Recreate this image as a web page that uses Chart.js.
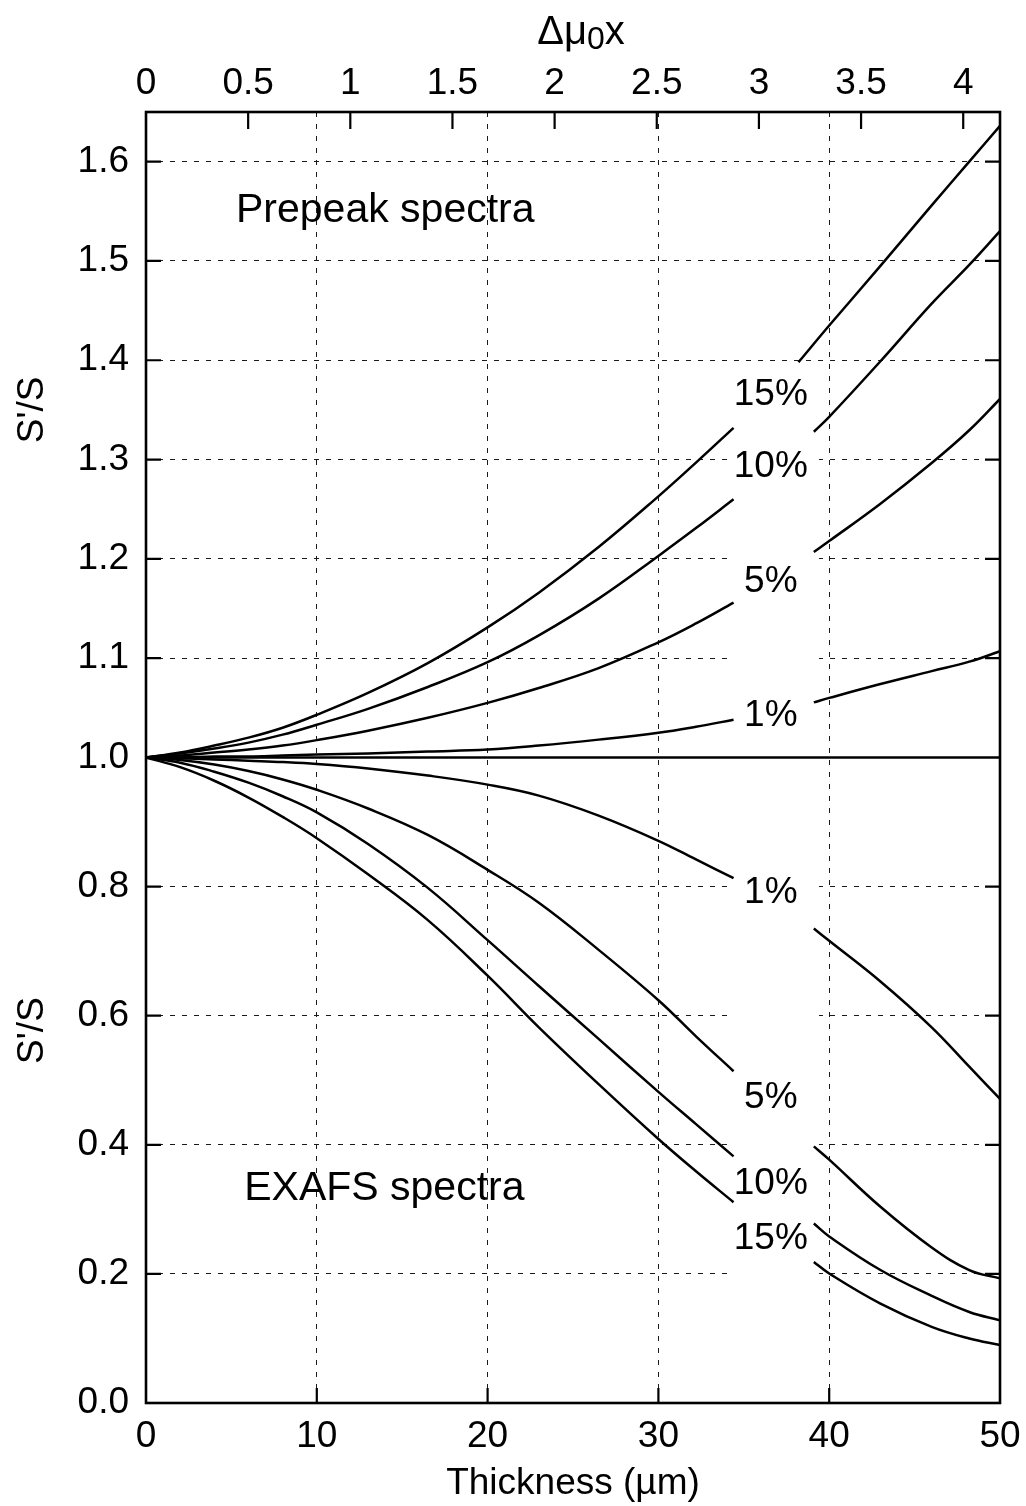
<!DOCTYPE html>
<html><head><meta charset="utf-8">
<script src="https://cdn.jsdelivr.net/npm/chart.js@4.4.1/dist/chart.umd.min.js"></script>
<style>html,body{margin:0;padding:0;background:#fff;}#wrap{width:1026px;height:1506px;}</style>
</head><body><div id="wrap"><canvas id="c" width="1026" height="1506"></canvas></div>
<script>
// ---------- data ----------
const thicknessA   = [0, 2, 4, 6, 8, 10, 13, 16.5, 20, 23, 26.5, 30, 32.2, 34.4];
const thicknessB   = [39.1, 40, 43, 46, 48.2, 50];
const thicknessB15 = [38.2, 40, 43, 46, 48.2, 50];

const prepeak15A = [1.000, 1.005, 1.012, 1.020, 1.030, 1.043, 1.065, 1.095, 1.131, 1.166, 1.212, 1.263, 1.297, 1.332];
const prepeak15B = [1.398, 1.435, 1.495, 1.556, 1.600, 1.636];
const prepeak10A = [1.000, 1.004, 1.009, 1.015, 1.023, 1.033, 1.049, 1.071, 1.096, 1.123, 1.160, 1.203, 1.231, 1.260];
const prepeak10B = [1.328, 1.343, 1.399, 1.457, 1.496, 1.530];
const prepeak5A  = [1.000, 1.002, 1.005, 1.008, 1.012, 1.0175, 1.027, 1.040, 1.055, 1.070, 1.090, 1.116, 1.135, 1.156];
const prepeak5B  = [1.207, 1.218, 1.2555, 1.2965, 1.3295, 1.361];
const prepeak1A  = [1.000, 1.000, 1.001, 1.001, 1.002, 1.003, 1.004, 1.006, 1.008, 1.012, 1.018, 1.025, 1.031, 1.038];
const prepeak1B  = [1.0555, 1.060, 1.074, 1.087, 1.0965, 1.107];

const exafs1A  = [1.000, 0.999, 0.997, 0.995, 0.993, 0.990, 0.983, 0.972, 0.958, 0.941, 0.910, 0.871, 0.842, 0.813];
const exafs1B  = [0.735, 0.716, 0.653, 0.582, 0.521, 0.471];
const exafs5A  = [1.000, 0.996, 0.989, 0.979, 0.966, 0.950, 0.921, 0.880, 0.826, 0.775, 0.702, 0.624, 0.568, 0.514];
const exafs5B  = [0.3975, 0.377, 0.304, 0.241, 0.206, 0.193];
const exafs10A = [1.000, 0.992, 0.978, 0.961, 0.940, 0.915, 0.866, 0.798, 0.717, 0.646, 0.564, 0.482, 0.432, 0.382];
const exafs10B = [0.278, 0.258, 0.206, 0.166, 0.141, 0.128];
const exafs15A = [1.000, 0.985, 0.964, 0.938, 0.908, 0.875, 0.819, 0.748, 0.662, 0.582, 0.494, 0.409, 0.359, 0.311];
const exafs15B = [0.2186, 0.2006, 0.154, 0.118, 0.100, 0.090];

const referenceX = [0, 50];
const referenceY = [1.0, 1.0];

const thicknessTicks = [0, 10, 20, 30, 40, 50];
const muTicks        = [0, 0.5, 1, 1.5, 2, 2.5, 3, 3.5, 4];
const upperTicks     = [1.1, 1.2, 1.3, 1.4, 1.5, 1.6];
const lowerTicks     = [0.0, 0.2, 0.4, 0.6, 0.8, 1.0];
const muAtMaxThickness = 4.18;

const curveLabels = ['15%', '10%', '5%', '1%'];
const exafsLabels = ['1%', '5%', '10%', '15%'];

// ---------- helpers ----------
const FAMILY = '"Liberation Sans", Arial, Helvetica, sans-serif';
const tickFont = { family: FAMILY, size: 37 };
const pts = (xs, ys) => xs.map((x, i) => ({ x, y: ys[i] }));
function line(xs, ys, axis) {
  return { data: pts(xs, ys), yAxisID: axis, borderColor: '#000', borderWidth: 2.5,
           pointRadius: 0, showLine: true, fill: false, tension: 0.4, clip: 4 };
}
const setTicks = arr => s => { s.ticks = arr.map(v => ({ value: v })); };

// annotation layout (positions in data units)
const labelLayout = {
  x: 36.58,
  upperY: [1.368, 1.296, 1.180, 1.045],
  lowerY: [0.795, 0.478, 0.345, 0.259],
  gap: { from: 34.25, to: 39.4, top: 1.385, bottom: 0.155 },
  prepeak: { x: 5.27, y: 1.5545, text: 'Prepeak spectra' },
  exafs: { x: 5.75, y: 0.337, text: 'EXAFS spectra' },
  yTitleUpper: 1.35, yTitleLower: 0.577
};

function capText(ctx, text, x, yc, size, align) {
  ctx.font = size + 'px ' + FAMILY;
  ctx.textAlign = align; ctx.textBaseline = 'alphabetic';
  ctx.fillText(text, x, yc + 0.358 * size);
}

const decor = {
  id: 'decor',
  beforeDatasetsDraw(chart) {
    const { ctx, scales: { x, yTop, yBot } } = chart;
    const g = labelLayout.gap;
    const l = x.getPixelForValue(g.from), r = x.getPixelForValue(g.to);
    const t = yTop.getPixelForValue(g.top), b = yBot.getPixelForValue(g.bottom);
    ctx.save(); ctx.fillStyle = '#fff'; ctx.fillRect(l, t, r - l, b - t); ctx.restore();
  },
  afterDatasetsDraw(chart) {
    const { ctx, chartArea: a, scales: { x, x2, yTop, yBot } } = chart;
    ctx.save();
    ctx.strokeStyle = '#000'; ctx.fillStyle = '#000';
    // frame
    ctx.lineWidth = 2.6;
    ctx.strokeRect(a.left, a.top, a.right - a.left, a.bottom - a.top);
    // inward tick marks
    ctx.lineWidth = 2.2;
    ctx.beginPath();
    thicknessTicks.slice(1, -1).forEach(v => { const p = x.getPixelForValue(v); ctx.moveTo(p, a.bottom); ctx.lineTo(p, a.bottom - 15); });
    muTicks.slice(1).forEach(v => { const p = x2.getPixelForValue(v); ctx.moveTo(p, a.top); ctx.lineTo(p, a.top + 17); });
    upperTicks.forEach(v => { const p = yTop.getPixelForValue(v); ctx.moveTo(a.left, p); ctx.lineTo(a.left + 15, p); ctx.moveTo(a.right, p); ctx.lineTo(a.right - 15, p); });
    lowerTicks.slice(1, -1).forEach(v => { const p = yBot.getPixelForValue(v); ctx.moveTo(a.left, p); ctx.lineTo(a.left + 15, p); ctx.moveTo(a.right, p); ctx.lineTo(a.right - 15, p); });
    ctx.stroke();
    // curve labels
    const lx = x.getPixelForValue(labelLayout.x);
    curveLabels.forEach((t, i) => capText(ctx, t, lx, yTop.getPixelForValue(labelLayout.upperY[i]), 37, 'center'));
    exafsLabels.forEach((t, i) => capText(ctx, t, lx, yBot.getPixelForValue(labelLayout.lowerY[i]), 37, 'center'));
    capText(ctx, labelLayout.prepeak.text, x.getPixelForValue(labelLayout.prepeak.x), yTop.getPixelForValue(labelLayout.prepeak.y), 41, 'left');
    capText(ctx, labelLayout.exafs.text, x.getPixelForValue(labelLayout.exafs.x), yBot.getPixelForValue(labelLayout.exafs.y), 41, 'left');
    // y titles (rotated)
    [[yTop, labelLayout.yTitleUpper], [yBot, labelLayout.yTitleLower]].forEach(([s, v]) => {
      ctx.save(); ctx.translate(30, s.getPixelForValue(v)); ctx.rotate(-Math.PI / 2);
      capText(ctx, "S'/S", 0, 0, 37, 'center'); ctx.restore();
    });
    // top title  Δμ0x  (0 as subscript)
    const cx = (a.left + a.right) / 2 + 8, base = 44;
    ctx.textBaseline = 'alphabetic'; ctx.textAlign = 'left';
    ctx.font = '40px ' + FAMILY; const w1 = ctx.measureText('Δμ').width, w3 = ctx.measureText('x').width;
    ctx.font = '32px ' + FAMILY; const w2 = ctx.measureText('0').width;
    let sx = cx - (w1 + w2 + w3) / 2;
    ctx.font = '40px ' + FAMILY; ctx.fillText('Δμ', sx, base); sx += w1;
    ctx.font = '32px ' + FAMILY; ctx.fillText('0', sx, base + 5); sx += w2;
    ctx.font = '40px ' + FAMILY; ctx.fillText('x', sx, base);
    ctx.restore();
  }
};

const gridColor = (lo, hi) => c => (c.tick && (c.tick.value === lo || c.tick.value === hi)) ? 'rgba(0,0,0,0)' : '#1a1a1a';

new Chart(document.getElementById('c'), {
  type: 'scatter',
  data: { datasets: [
    line(thicknessA, prepeak15A, 'yTop'), line(thicknessB15, prepeak15B, 'yTop'),
    line(thicknessA, prepeak10A, 'yTop'), line(thicknessB, prepeak10B, 'yTop'),
    line(thicknessA, prepeak5A, 'yTop'),  line(thicknessB, prepeak5B, 'yTop'),
    line(thicknessA, prepeak1A, 'yTop'),  line(thicknessB, prepeak1B, 'yTop'),
    line(referenceX, referenceY, 'yBot'),
    line(thicknessA, exafs1A, 'yBot'),  line(thicknessB, exafs1B, 'yBot'),
    line(thicknessA, exafs5A, 'yBot'),  line(thicknessB, exafs5B, 'yBot'),
    line(thicknessA, exafs10A, 'yBot'), line(thicknessB, exafs10B, 'yBot'),
    line(thicknessA, exafs15A, 'yBot'), line(thicknessB, exafs15B, 'yBot')
  ] },
  options: {
    responsive: false, animation: false, devicePixelRatio: 1,
    layout: { padding: { left: 0, right: 26, top: 0, bottom: 0 } },
    plugins: { legend: { display: false }, tooltip: { enabled: false } },
    scales: {
      x: {
        type: 'linear', position: 'bottom', min: 0, max: 50,
        afterBuildTicks: setTicks(thicknessTicks),
        afterFit: s => { s.height = 103; s.paddingLeft = 0; s.paddingRight = 0; },
        grid: { color: gridColor(0, 50), lineWidth: 1, drawTicks: false, tickLength: 0 },
        border: { display: false, dash: [5, 7] },
        ticks: { font: tickFont, color: '#000', padding: 12, maxRotation: 0, autoSkip: false, callback: v => String(v) },
        title: { display: true, text: 'Thickness (µm)', font: tickFont, color: '#000', padding: { top: 0, bottom: 0 } }
      },
      x2: {
        type: 'linear', position: 'top', min: 0, max: muAtMaxThickness,
        afterBuildTicks: setTicks(muTicks),
        afterFit: s => { s.height = 112; s.paddingLeft = 0; s.paddingRight = 0; },
        grid: { display: false, drawTicks: false, tickLength: 0 },
        border: { display: false },
        ticks: { font: tickFont, color: '#000', padding: 6, maxRotation: 0, autoSkip: false, callback: v => String(v) }
      },
      yBot: {
        type: 'linear', position: 'left', stack: 'ss', stackWeight: 1, min: 0, max: 1.0,
        afterBuildTicks: setTicks(lowerTicks),
        afterFit: s => { s.width = 146; },
        grid: { color: gridColor(0, 1.0), lineWidth: 1, drawTicks: false, tickLength: 0 },
        border: { display: false, dash: [5, 7] },
        ticks: { font: tickFont, color: '#000', padding: 17, autoSkip: false, callback: v => Number(v).toFixed(1) }
      },
      yTop: {
        type: 'linear', position: 'left', stack: 'ss', stackWeight: 1, min: 1.0, max: 1.65,
        afterBuildTicks: setTicks(upperTicks),
        afterFit: s => { s.width = 146; },
        grid: { color: '#1a1a1a', lineWidth: 1, drawTicks: false, tickLength: 0 },
        border: { display: false, dash: [5, 7] },
        ticks: { font: tickFont, color: '#000', padding: 17, autoSkip: false, callback: v => Number(v).toFixed(1) }
      }
    }
  },
  plugins: [decor]
});
</script></body></html>
